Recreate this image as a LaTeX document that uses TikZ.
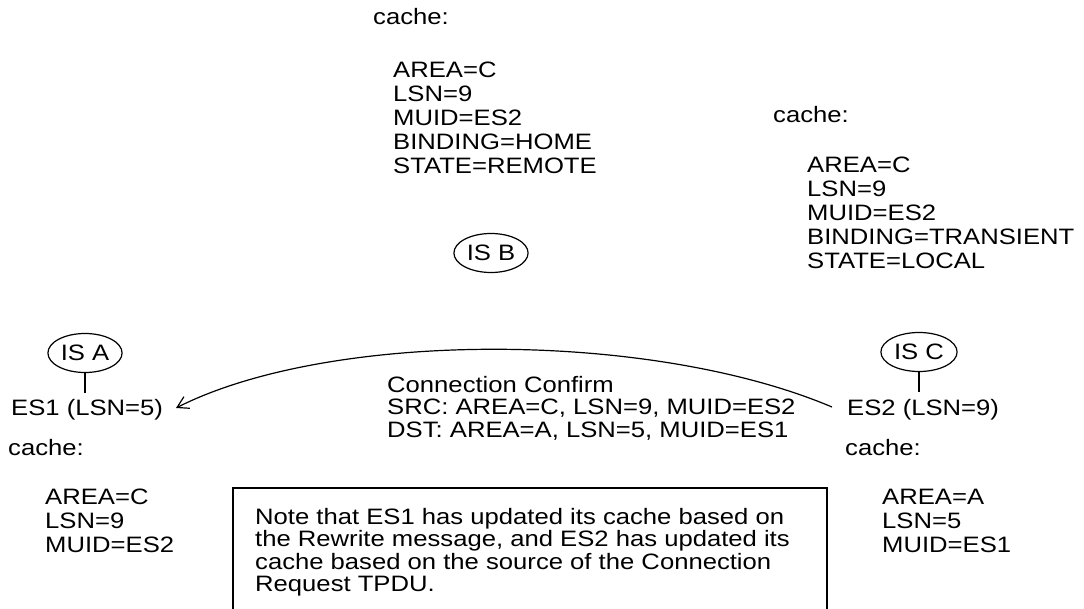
\documentclass[tikz,border=0pt]{standalone}
\usepackage{fontspec}
\setmainfont{Liberation Sans}[FakeStretch=1.15]
\usetikzlibrary{shapes.geometric,arrows.meta,positioning}

\tikzset{
    txt/.style={anchor=north west, align=left, inner sep=0pt, font=\fontsize{22.3}{24}\selectfont},
    msgtxt/.style={txt, font=\fontsize{22.3}{22.4}\selectfont},
    isnode/.style={ellipse, draw, line width=1.2pt, inner xsep=2pt, inner ysep=1pt, minimum width=74pt, minimum height=39pt, font=\fontsize{22.3}{24}\selectfont},
    link/.style={line width=1.2pt}
}

\begin{document}
\begin{tikzpicture}[x=1pt, y=-1pt]
    \useasboundingbox (0,0) rectangle (1084,609);

    % IS B with its cache
    \node[txt] (cacheb) at (373,8) {cache:};
    \node[txt] (blockb) at (393,62) {AREA=C\\LSN=9\\MUID=ES2\\BINDING=HOME\\STATE=REMOTE};
    \node[isnode] (isb) at (491,253) {IS B};

    % upper right cache
    \node[txt] (cachec) at (773,106) {cache:};
    \node[txt] (blockc) at (807,157) {AREA=C\\LSN=9\\MUID=ES2\\BINDING=TRANSIENT\\STATE=LOCAL};

    % IS A and ES1
    \node[isnode] (isa) at (85,353) {IS A};
    \node[txt] (es1) at (11,399) {ES1 (LSN=5)};
    \draw[link] (isa.south) -- ++(0,20);
    \node[txt] (cache1) at (8,439) {cache:};
    \node[txt] (block1) at (45,489) {AREA=C\\LSN=9\\MUID=ES2};

    % IS C and ES2
    \node[isnode] (isc) at (919,352) {IS C};
    \node[txt] (es2) at (847,399) {ES2 (LSN=9)};
    \draw[link] (isc.south) -- ++(0,20);
    \node[txt] (cache2) at (845,439) {cache:};
    \node[txt] (block2) at (882,489) {AREA=A\\LSN=5\\MUID=ES1};

    % the message
    \coordinate (from) at (832,407);
    \coordinate (to) at (176,408);
    \draw[link, -{Straight Barb[length=11pt,width=13pt,line width=1.2pt]}]
        (from) .. controls (650,330) and (330,330) .. (to);
    \node[msgtxt] (msg) at (387,376) {Connection Confirm\\SRC: AREA=C, LSN=9, MUID=ES2\\DST: AREA=A, LSN=5, MUID=ES1};

    % note
    \draw[link] (233,488) rectangle (827,640);
    \node[msgtxt] (note) at (255,508) {Note that ES1 has updated its cache based on\\the Rewrite message, and ES2 has updated its\\cache based on the source of the Connection\\Request TPDU.};
\end{tikzpicture}
\end{document}
